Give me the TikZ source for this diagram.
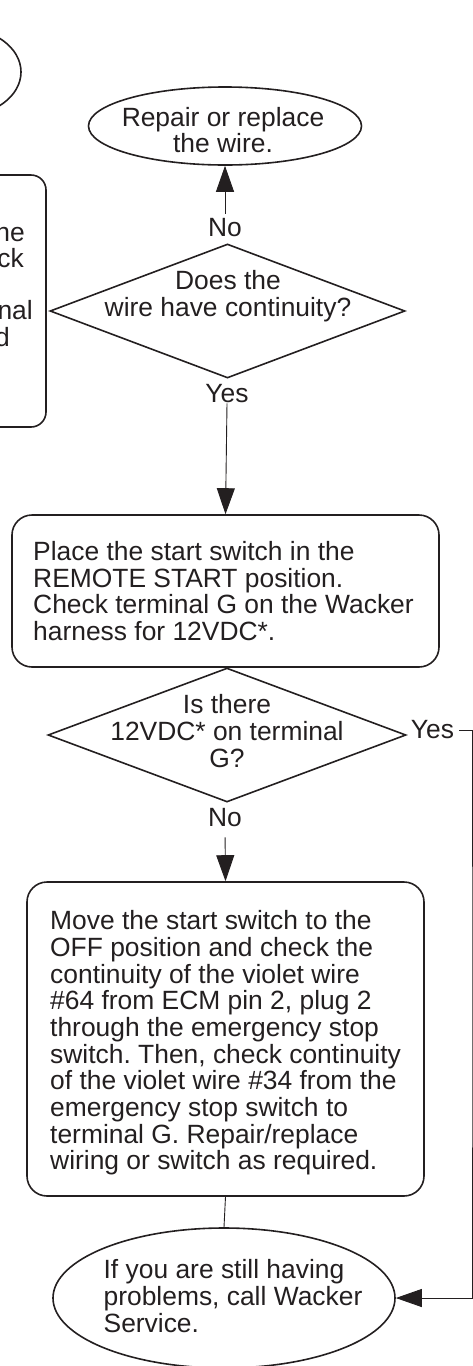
\documentclass[tikz,border=0pt]{standalone}
\usepackage{fontspec}
\setmainfont{Liberation Sans}
\usetikzlibrary{shapes.geometric,arrows.meta}
\definecolor{txt}{HTML}{231F20}
\frenchspacing
\begin{document}
\begin{tikzpicture}[x=1pt,y=-1pt,
  every node/.style={font=\fontsize{26.4}{26.7}\selectfont\frenchspacing, text=txt},
  shp/.style={draw=txt, line width=1.6pt},
  rbox/.style={shp, rectangle, rounded corners=20pt, inner sep=0pt},
  oval/.style={shp, ellipse, inner sep=0pt},
  dia/.style={shp, diamond, inner sep=0pt},
  lbl/.style={inner sep=0pt},
  conn/.style={draw=txt, line width=0.9pt},
  arr/.style={conn, -{Triangle[length=26pt,width=18pt]}},
]
\useasboundingbox (0,0) rectangle (473,1366);
\clip (0,0) rectangle (473,1366);

% partially visible shapes on the left
\node[oval, minimum width=120pt, minimum height=88pt] (top) at (-39,72) {};
\node[rbox, rounded corners=15pt, minimum width=346pt, minimum height=252pt] (lbox) at (-127,301) {};
\node[lbl, anchor=east] (f1) at (25,232) {he};
\node[lbl, anchor=east] (f2) at (24,258) {ck};
\node[lbl, anchor=east] (f3) at (33,310) {nal};
\node[lbl, anchor=east] (f4) at (10,337) {d};

% repair ellipse
\node[oval, minimum width=273pt, minimum height=78pt] (rep) at (225,126) {};
\node[lbl, align=center] (rept) at (223,130) {Repair or replace\\the wire.};

% diamond 1
\node[dia, minimum width=355pt, minimum height=134pt] (d1) at (227.5,311) {};
\node[lbl, align=center] (d1t) at (228,296) {Does the\\wire have continuity?};
\node[lbl] (no1) at (225,228) {No};
\node[lbl] (yes1) at (227,394) {Yes};

% box 2
\node[rbox, minimum width=427pt, minimum height=152pt] (box2) at (225.5,591) {};
\node[lbl, anchor=west, align=left] (box2t) at (33,591)
  {Place the start switch in the\\REMOTE START position.\\Check terminal G on the Wacker\\harness for 12VDC*.};

% diamond 2
\node[dia, minimum width=358pt, minimum height=134pt] (d2) at (227,735) {};
\node[lbl, align=center] (d2t) at (227,731) {Is there\\12VDC* on terminal\\G?};
\node[lbl] (yes2) at (432.5,730) {Yes};
\node[lbl] (no2) at (225,818) {No};

% box 3
\node[rbox, minimum width=397pt, minimum height=314pt] (box3) at (225.5,1039) {};
\node[lbl, anchor=west, align=left] (box3t) at (50,1043)
  {Move the start switch to the\\OFF position and check the\\continuity of the violet wire\\\#64 from ECM pin 2, plug 2\\through the emergency stop\\switch. Then, check continuity\\of the violet wire \#34 from the\\emergency stop switch to\\terminal G. Repair/replace\\wiring or switch as required.};

% final ellipse
\node[oval, minimum width=342pt, minimum height=140pt] (fin) at (224,1298) {};
\node[lbl, align=left] (fint) at (233,1296) {If you are still having\\problems, call Wacker\\Service.};

% connectors
\coordinate (rc) at (472,1000);
\draw[arr, shorten <=5pt] (no1.north) -- (rep.south);
\draw[arr] (yes1.south) -- (box2.north);
\draw[arr, shorten <=10pt] (no2.south) -- (box3.north);
\draw[arr, shorten <=5pt] (yes2.east) -| (rc) |- (fin.east);
\draw[conn] (box3.south) -- (fin.north);
\end{tikzpicture}
\end{document}
